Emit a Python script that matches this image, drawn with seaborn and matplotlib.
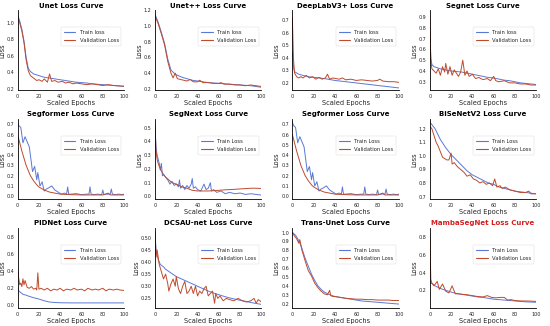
import numpy as np
import pandas as pd
import matplotlib
matplotlib.use("Agg")
import matplotlib.pyplot as plt
import seaborn as sns

# ---- data (x = scaled epoch, y = loss) ----
unet_train_x = [0, 2, 4, 6, 8, 10, 12, 15, 20, 25, 30, 35, 40, 45, 50, 55, 60, 65, 70, 80, 90, 100]
unet_train_y = [1.10, 1.02, 0.92, 0.78, 0.58, 0.45, 0.41, 0.38, 0.36, 0.34, 0.33, 0.32, 0.31, 0.30, 0.29, 0.28, 0.275, 0.27, 0.26, 0.25, 0.24, 0.23]
unet_val_x = [0, 2, 4, 6, 8, 10, 12, 15, 18, 20, 23, 25, 28, 30, 32, 35, 38, 42, 45, 48, 52, 55, 60, 65, 70, 75, 80, 85, 90, 95, 100]
unet_val_y = [1.08, 1.00, 0.90, 0.76, 0.55, 0.42, 0.36, 0.33, 0.30, 0.31, 0.29, 0.32, 0.28, 0.38, 0.29, 0.30, 0.28, 0.29, 0.27, 0.28, 0.26, 0.27, 0.26, 0.25, 0.26, 0.25, 0.24, 0.25, 0.24, 0.235, 0.23]

unetpp_train_x = [0, 3, 6, 9, 12, 15, 18, 20, 25, 30, 35, 40, 50, 60, 70, 80, 90, 100]
unetpp_train_y = [1.15, 1.05, 0.92, 0.78, 0.58, 0.44, 0.40, 0.38, 0.35, 0.33, 0.31, 0.30, 0.28, 0.27, 0.26, 0.25, 0.24, 0.22]
unetpp_val_x = [0, 3, 6, 9, 12, 15, 17, 19, 21, 24, 27, 30, 33, 36, 40, 42, 45, 50, 55, 60, 62, 65, 70, 75, 80, 85, 90, 95, 100]
unetpp_val_y = [1.13, 1.03, 0.90, 0.76, 0.55, 0.40, 0.34, 0.40, 0.33, 0.32, 0.31, 0.30, 0.32, 0.29, 0.29, 0.31, 0.28, 0.28, 0.27, 0.27, 0.28, 0.26, 0.26, 0.25, 0.25, 0.24, 0.25, 0.24, 0.23]

deeplab_train_x = [0, 1, 2, 4, 6, 10, 15, 20, 25, 30, 40, 50, 60, 70, 80, 90, 100]
deeplab_train_y = [0.45, 0.33, 0.29, 0.28, 0.27, 0.26, 0.25, 0.245, 0.24, 0.235, 0.22, 0.21, 0.20, 0.19, 0.18, 0.17, 0.16]
deeplab_val_x = [0, 1, 2, 4, 6, 8, 10, 13, 16, 19, 22, 25, 28, 31, 33, 35, 38, 41, 44, 47, 50, 55, 60, 65, 70, 75, 80, 82, 85, 90, 95, 100]
deeplab_val_y = [0.72, 0.40, 0.28, 0.25, 0.24, 0.25, 0.24, 0.26, 0.24, 0.25, 0.23, 0.245, 0.23, 0.24, 0.27, 0.23, 0.24, 0.235, 0.23, 0.24, 0.225, 0.23, 0.22, 0.225, 0.22, 0.215, 0.22, 0.23, 0.215, 0.21, 0.21, 0.205]

segnet_train_x = [0, 1, 2, 4, 7, 10, 15, 20, 25, 30, 35, 40, 45, 50, 55, 60, 65, 70, 75, 80, 85, 90, 95, 100]
segnet_train_y = [0.75, 0.52, 0.46, 0.44, 0.43, 0.42, 0.41, 0.40, 0.395, 0.39, 0.38, 0.37, 0.36, 0.35, 0.34, 0.335, 0.325, 0.315, 0.31, 0.30, 0.29, 0.285, 0.28, 0.275]
segnet_val_x = [0, 1, 2, 4, 6, 8, 10, 12, 14, 15, 17, 19, 21, 23, 25, 27, 29, 31, 33, 35, 37, 40, 43, 46, 50, 54, 57, 60, 62, 65, 70, 75, 80, 85, 90, 95, 100]
segnet_val_y = [0.90, 0.50, 0.42, 0.40, 0.38, 0.42, 0.36, 0.44, 0.39, 0.47, 0.37, 0.44, 0.36, 0.41, 0.38, 0.35, 0.39, 0.50, 0.36, 0.40, 0.35, 0.37, 0.33, 0.34, 0.32, 0.33, 0.31, 0.35, 0.31, 0.30, 0.31, 0.29, 0.29, 0.28, 0.28, 0.27, 0.27]

segformer_train_x = [0, 1, 3, 5, 7, 9, 11, 12, 14, 16, 18, 19, 21, 23, 25, 27, 29, 32, 35, 38, 41, 44, 46, 47, 48, 50, 55, 60, 65, 67, 68, 69, 72, 75, 79, 80, 81, 84, 87, 88, 89, 92, 95, 98, 100]
segformer_train_y = [0.72, 0.69, 0.67, 0.52, 0.58, 0.53, 0.48, 0.40, 0.24, 0.29, 0.16, 0.23, 0.10, 0.14, 0.05, 0.07, 0.08, 0.10, 0.06, 0.04, 0.02, 0.03, 0.02, 0.09, 0.02, 0.02, 0.025, 0.015, 0.02, 0.02, 0.09, 0.02, 0.015, 0.02, 0.015, 0.06, 0.015, 0.02, 0.02, 0.07, 0.02, 0.015, 0.02, 0.015, 0.02]
segformer_val_x = [0, 2, 4, 6, 8, 10, 12, 15, 18, 20, 25, 30, 35, 40, 50, 60, 70, 80, 85, 87, 90, 100]
segformer_val_y = [0.60, 0.52, 0.44, 0.37, 0.30, 0.25, 0.20, 0.15, 0.11, 0.09, 0.06, 0.04, 0.03, 0.02, 0.015, 0.012, 0.012, 0.012, 0.03, 0.012, 0.012, 0.012]

segnext_train_x = [0, 1, 2, 4, 5, 6, 7, 8, 10, 12, 14, 16, 18, 20, 22, 23, 24, 26, 28, 30, 32, 34, 35, 36, 38, 40, 43, 46, 48, 50, 52, 53, 55, 58, 62, 66, 70, 75, 80, 85, 90, 95, 100]
segnext_train_y = [0.52, 0.35, 0.30, 0.24, 0.19, 0.24, 0.15, 0.16, 0.14, 0.12, 0.09, 0.11, 0.08, 0.09, 0.07, 0.12, 0.06, 0.08, 0.05, 0.08, 0.06, 0.09, 0.13, 0.06, 0.07, 0.05, 0.04, 0.09, 0.05, 0.06, 0.10, 0.04, 0.05, 0.03, 0.04, 0.02, 0.03, 0.02, 0.025, 0.015, 0.02, 0.015, 0.01]
segnext_val_x = [0, 1, 2, 3, 5, 7, 10, 13, 16, 20, 25, 30, 35, 40, 45, 50, 55, 60, 65, 70, 75, 80, 85, 90, 95, 100]
segnext_val_y = [0.50, 0.33, 0.27, 0.24, 0.20, 0.17, 0.14, 0.12, 0.10, 0.09, 0.07, 0.06, 0.045, 0.04, 0.04, 0.04, 0.042, 0.045, 0.048, 0.05, 0.052, 0.055, 0.057, 0.06, 0.06, 0.058]

bisenet_train_x = [0, 5, 10, 15, 20, 25, 30, 35, 40, 45, 50, 55, 60, 65, 70, 75, 80, 85, 90, 95, 100]
bisenet_train_y = [1.25, 1.20, 1.12, 1.06, 1.01, 0.97, 0.93, 0.89, 0.86, 0.84, 0.82, 0.80, 0.79, 0.77, 0.76, 0.75, 0.74, 0.735, 0.73, 0.725, 0.72]
bisenet_val_x = [0, 2, 4, 6, 8, 10, 12, 14, 16, 18, 20, 21, 23, 26, 29, 32, 35, 38, 41, 44, 47, 50, 53, 56, 59, 61, 63, 66, 68, 71, 75, 80, 85, 90, 93, 95, 100]
bisenet_val_y = [1.22, 1.20, 1.15, 1.10, 1.07, 1.03, 0.99, 0.98, 0.97, 0.97, 1.02, 0.94, 0.95, 0.92, 0.90, 0.88, 0.85, 0.86, 0.83, 0.82, 0.80, 0.81, 0.79, 0.80, 0.78, 0.83, 0.77, 0.78, 0.76, 0.77, 0.75, 0.74, 0.73, 0.73, 0.74, 0.72, 0.72]

pidnet_train_x = [0, 1, 3, 5, 8, 10, 15, 20, 25, 30, 35, 40, 50, 60, 70, 80, 90, 100]
pidnet_train_y = [0.24, 0.17, 0.15, 0.13, 0.12, 0.11, 0.09, 0.075, 0.055, 0.04, 0.035, 0.032, 0.03, 0.03, 0.03, 0.03, 0.03, 0.03]
pidnet_val_x = [0, 1, 2, 3, 4, 5, 6, 7, 9, 11, 13, 15, 17, 18, 19, 20, 22, 25, 28, 31, 34, 37, 40, 43, 46, 50, 53, 56, 60, 63, 66, 70, 73, 76, 80, 83, 86, 90, 93, 96, 100]
pidnet_val_y = [0.45, 0.32, 0.24, 0.26, 0.22, 0.31, 0.24, 0.29, 0.21, 0.20, 0.22, 0.19, 0.20, 0.18, 0.38, 0.19, 0.20, 0.18, 0.20, 0.17, 0.19, 0.18, 0.20, 0.17, 0.19, 0.18, 0.20, 0.18, 0.19, 0.17, 0.20, 0.18, 0.19, 0.18, 0.20, 0.17, 0.19, 0.18, 0.19, 0.18, 0.175]

dcsau_train_x = [0, 1, 3, 5, 8, 10, 15, 20, 25, 30, 35, 40, 45, 50, 55, 60, 65, 70, 75, 80, 85, 90, 95, 100]
dcsau_train_y = [0.52, 0.45, 0.41, 0.39, 0.38, 0.37, 0.355, 0.34, 0.33, 0.32, 0.31, 0.30, 0.29, 0.28, 0.272, 0.265, 0.258, 0.252, 0.247, 0.242, 0.238, 0.233, 0.229, 0.225]
dcsau_val_x = [0, 1, 2, 4, 6, 8, 10, 12, 13, 15, 17, 19, 20, 22, 24, 26, 28, 30, 32, 34, 36, 38, 40, 42, 44, 46, 48, 50, 52, 54, 56, 57, 59, 61, 64, 67, 70, 74, 78, 82, 86, 90, 93, 95, 97, 100]
dcsau_val_y = [0.52, 0.42, 0.45, 0.39, 0.36, 0.33, 0.35, 0.31, 0.28, 0.31, 0.33, 0.30, 0.34, 0.29, 0.27, 0.30, 0.32, 0.27, 0.28, 0.30, 0.27, 0.30, 0.26, 0.28, 0.27, 0.29, 0.30, 0.26, 0.27, 0.28, 0.23, 0.27, 0.25, 0.26, 0.24, 0.25, 0.245, 0.24, 0.25, 0.24, 0.235, 0.24, 0.25, 0.23, 0.245, 0.235]

transunet_train_x = [0, 3, 6, 9, 12, 15, 18, 21, 24, 27, 30, 35, 40, 45, 50, 55, 60, 65, 70, 75, 80, 85, 90, 95, 100]
transunet_train_y = [1.00, 0.97, 0.91, 0.82, 0.71, 0.62, 0.53, 0.46, 0.40, 0.36, 0.33, 0.30, 0.28, 0.27, 0.26, 0.25, 0.24, 0.23, 0.225, 0.22, 0.215, 0.21, 0.205, 0.20, 0.195]
transunet_val_x = [0, 2, 4, 6, 7, 9, 12, 15, 16, 18, 21, 24, 27, 30, 33, 35, 36, 38, 40, 45, 50, 55, 60, 65, 70, 75, 80, 85, 90, 95, 100]
transunet_val_y = [1.00, 0.96, 0.93, 0.88, 0.92, 0.80, 0.68, 0.57, 0.55, 0.51, 0.43, 0.38, 0.34, 0.31, 0.30, 0.35, 0.29, 0.28, 0.28, 0.27, 0.26, 0.255, 0.25, 0.25, 0.245, 0.245, 0.24, 0.24, 0.24, 0.235, 0.235]

mamba_train_x = [0, 1, 3, 5, 10, 15, 20, 25, 30, 35, 40, 45, 50, 55, 60, 65, 70, 75, 80, 85, 90, 95, 100]
mamba_train_y = [0.30, 0.28, 0.27, 0.25, 0.22, 0.20, 0.18, 0.165, 0.155, 0.145, 0.135, 0.125, 0.12, 0.11, 0.10, 0.095, 0.09, 0.085, 0.08, 0.075, 0.07, 0.068, 0.065]
mamba_val_x = [0, 1, 2, 4, 7, 9, 12, 15, 18, 21, 24, 27, 30, 35, 40, 45, 50, 54, 58, 62, 66, 70, 73, 76, 80, 85, 90, 95, 100]
mamba_val_y = [0.85, 0.32, 0.28, 0.25, 0.30, 0.21, 0.27, 0.19, 0.17, 0.25, 0.16, 0.16, 0.155, 0.15, 0.14, 0.13, 0.125, 0.14, 0.12, 0.115, 0.12, 0.12, 0.09, 0.095, 0.085, 0.08, 0.08, 0.078, 0.075]

titles = ["Unet Loss Curve", "Unet++ Loss Curve", "DeepLabV3+ Loss Curve", "Segnet Loss Curve",
          "Segformer Loss Curve", "SegNext Loss Curve", "Segformer Loss Curve", "BiSeNetV2 Loss Curve",
          "PIDNet Loss Curve", "DCSAU-net Loss Curve", "Trans-Unet Loss Curve", "MambaSegNet Loss Curve"]

panels = [
    (unet_train_x, unet_train_y, unet_val_x, unet_val_y),
    (unetpp_train_x, unetpp_train_y, unetpp_val_x, unetpp_val_y),
    (deeplab_train_x, deeplab_train_y, deeplab_val_x, deeplab_val_y),
    (segnet_train_x, segnet_train_y, segnet_val_x, segnet_val_y),
    (segformer_train_x, segformer_train_y, segformer_val_x, segformer_val_y),
    (segnext_train_x, segnext_train_y, segnext_val_x, segnext_val_y),
    (segformer_train_x, segformer_train_y, segformer_val_x, segformer_val_y),
    (bisenet_train_x, bisenet_train_y, bisenet_val_x, bisenet_val_y),
    (pidnet_train_x, pidnet_train_y, pidnet_val_x, pidnet_val_y),
    (dcsau_train_x, dcsau_train_y, dcsau_val_x, dcsau_val_y),
    (transunet_train_x, transunet_train_y, transunet_val_x, transunet_val_y),
    (mamba_train_x, mamba_train_y, mamba_val_x, mamba_val_y),
]

y_limits = [(0.18, 1.15), (0.18, 1.2), (0.14, 0.78), (0.22, 0.96),
            (-0.03, 0.75), (-0.02, 0.56), (-0.03, 0.75), (0.68, 1.27),
            (-0.03, 0.9), (0.21, 0.54), (0.15, 1.05), (0.0, 0.9)]
y_ticks = [[0.2, 0.4, 0.6, 0.8, 1.0], [0.2, 0.4, 0.6, 0.8, 1.0, 1.2], [0.2, 0.3, 0.4, 0.5, 0.6, 0.7],
           [0.3, 0.4, 0.5, 0.6, 0.7, 0.8, 0.9], [0.0, 0.1, 0.2, 0.3, 0.4, 0.5, 0.6, 0.7],
           [0.0, 0.1, 0.2, 0.3, 0.4, 0.5], [0.0, 0.1, 0.2, 0.3, 0.4, 0.5, 0.6, 0.7],
           [0.7, 0.8, 0.9, 1.0, 1.1, 1.2], [0.0, 0.2, 0.4, 0.6, 0.8],
           [0.25, 0.30, 0.35, 0.40, 0.45, 0.50], [0.2, 0.3, 0.4, 0.5, 0.6, 0.7, 0.8, 0.9, 1.0],
           [0.2, 0.4, 0.6, 0.8]]

train_color = "#5a78d6"
val_color = "#bf4a2c"

sns.set_style("white")
plt.rcParams["font.family"] = ["DejaVu Sans"]

fig, axes = plt.subplots(3, 4, figsize=(5.5, 3.26), dpi=100)
fig.subplots_adjust(left=0.032, right=0.975, top=0.968, bottom=0.055, wspace=0.29, hspace=0.36)

for i, ax in enumerate(axes.flat):
    tx, ty, vx, vy = panels[i]
    train_label = "Train loss" if i < 4 else "Train Loss"
    df_t = pd.DataFrame({"epoch": tx, "loss": ty})
    df_v = pd.DataFrame({"epoch": vx, "loss": vy})
    sns.lineplot(data=df_t, x="epoch", y="loss", ax=ax, color=train_color, lw=0.7, label=train_label)
    sns.lineplot(data=df_v, x="epoch", y="loss", ax=ax, color=val_color, lw=0.7, label="Validation Loss")
    ax.set_xlim(0, 100)
    ax.set_ylim(*y_limits[i])
    ax.set_xticks([0, 20, 40, 60, 80, 100])
    ax.set_yticks(y_ticks[i])
    ax.tick_params(labelsize=3.5, length=1.5, width=0.4, pad=1)
    title_color = "#d42020" if i == 11 else "black"
    ax.set_title(titles[i], fontsize=5, fontweight="bold", color=title_color, pad=2)
    ax.set_xlabel("Scaled Epochs", fontsize=4.8, labelpad=1)
    ax.set_ylabel("Loss", fontsize=4.8, labelpad=1)
    for side in ["top", "right"]:
        ax.spines[side].set_visible(False)
    for side in ["left", "bottom"]:
        ax.spines[side].set_linewidth(0.6)
        ax.spines[side].set_color("black")
    leg = ax.legend(loc="upper right", bbox_to_anchor=(1.0, 0.82), fontsize=3.8, frameon=True,
                    handlelength=2.2, borderpad=0.5, labelspacing=0.6)
    leg.get_frame().set_linewidth(0.3)
    for line in leg.get_lines():
        line.set_linewidth(0.8)

fig.savefig("out.png", dpi=100)
